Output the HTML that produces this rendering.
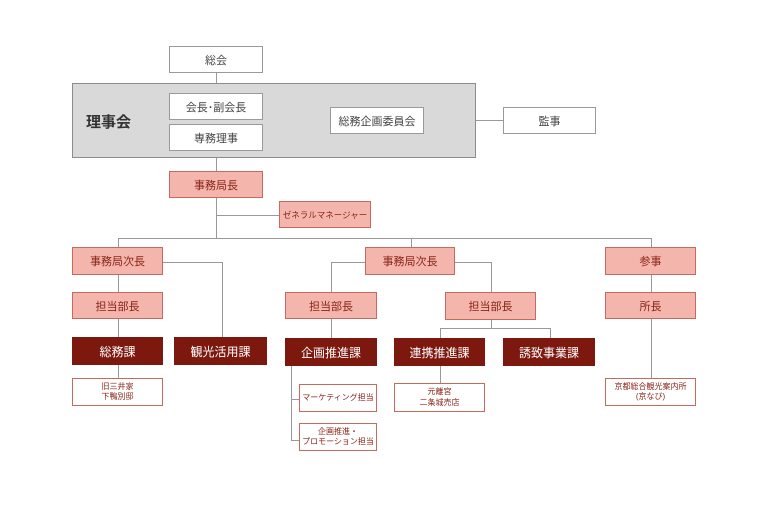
<!DOCTYPE html>
<html><head><meta charset="utf-8"><style>
body{margin:0;width:768px;height:512px;background:#fff;position:relative;overflow:hidden;font-family:"Liberation Sans","Noto Sans CJK JP",sans-serif}
div{position:absolute;box-sizing:border-box}
.b{display:flex;align-items:center;justify-content:center;text-align:center}
.w{background:#fff;border:1px solid #9a9a9a;color:#444;font-size:11px}
.p{background:#f4b6ac;border:1px solid #c9685c;color:#8a2418;font-size:11px}
.d{background:#7d180e;color:#fff;font-size:12px}
.s{background:#fff;border:1px solid #c9685c;color:#8a2418;font-size:8px;line-height:1.3}
.h{height:1px;background:#999}
.v{width:1px;background:#999}
</style></head><body>
<div class="v" style="left:216px;top:73px;height:10px"></div>
<div class="v" style="left:216px;top:158px;height:13px"></div>
<div class="v" style="left:216px;top:198px;height:40px"></div>
<div class="h" style="left:216px;top:215px;width:63px"></div>
<div class="h" style="left:476px;top:120px;width:27px"></div>
<div class="h" style="left:118px;top:238px;width:534px"></div>
<div class="v" style="left:118px;top:238px;height:127px"></div>
<div class="v" style="left:411px;top:238px;height:9px"></div>
<div class="v" style="left:651px;top:238px;height:140px"></div>
<div class="v" style="left:118px;top:365px;height:13px"></div>
<div class="h" style="left:163px;top:262px;width:59px"></div>
<div class="v" style="left:222px;top:262px;height:75px"></div>
<div class="h" style="left:331px;top:262px;width:34px"></div>
<div class="v" style="left:331px;top:262px;height:76px"></div>
<div class="h" style="left:455px;top:262px;width:36px"></div>
<div class="v" style="left:491px;top:262px;height:66px"></div>
<div class="h" style="left:440px;top:328px;width:110px"></div>
<div class="v" style="left:440px;top:328px;height:55px"></div>
<div class="v" style="left:550px;top:328px;height:10px"></div>
<div class="v" style="left:291px;top:365px;height:75px"></div>
<div class="h" style="left:291px;top:399px;width:8px"></div>
<div class="h" style="left:291px;top:440px;width:8px"></div>
<div class="b w" style="left:169px;top:46px;width:94px;height:27px">総会</div>
<div style="left:72px;top:83px;width:404px;height:75px;background:#d9d9d9;border:1px solid #8c8c8c"></div>
<div style="left:86px;top:111px;font-size:15px;font-weight:bold;color:#333">理事会</div>
<div class="b w" style="left:169px;top:93px;width:94px;height:27px">会長･副会長</div>
<div class="b w" style="left:169px;top:124px;width:94px;height:27px">専務理事</div>
<div class="b w" style="left:330px;top:107px;width:94px;height:27px">総務企画委員会</div>
<div class="b w" style="left:503px;top:107px;width:93px;height:27px">監事</div>
<div class="b p" style="left:169px;top:171px;width:94px;height:27px">事務局長</div>
<div class="b p" style="left:279px;top:201px;width:92px;height:27px;font-size:8.5px">ゼネラルマネージャー</div>
<div class="b p" style="left:72px;top:247px;width:91px;height:28px">事務局次長</div>
<div class="b p" style="left:72px;top:292px;width:91px;height:27px">担当部長</div>
<div class="b d" style="left:72px;top:337px;width:91px;height:28px">総務課</div>
<div class="b d" style="left:174px;top:337px;width:93px;height:28px">観光活用課</div>
<div class="b s" style="left:72px;top:378px;width:91px;height:28px">旧三井家<br>下鴨別邸</div>
<div class="b p" style="left:365px;top:247px;width:90px;height:28px">事務局次長</div>
<div class="b p" style="left:285px;top:292px;width:92px;height:27px">担当部長</div>
<div class="b p" style="left:445px;top:292px;width:91px;height:28px">担当部長</div>
<div class="b d" style="left:285px;top:338px;width:92px;height:28px">企画推進課</div>
<div class="b d" style="left:394px;top:338px;width:91px;height:28px">連携推進課</div>
<div class="b d" style="left:503px;top:338px;width:92px;height:28px">誘致事業課</div>
<div class="b s" style="left:299px;top:384px;width:78px;height:28px">マーケティング担当</div>
<div class="b s" style="left:299px;top:423px;width:78px;height:28px">企画推進・<br>プロモーション担当</div>
<div class="b s" style="left:394px;top:383px;width:91px;height:29px">元離宮<br>二条城売店</div>
<div class="b p" style="left:605px;top:247px;width:91px;height:28px">参事</div>
<div class="b p" style="left:605px;top:292px;width:91px;height:27px">所長</div>
<div class="b s" style="left:605px;top:378px;width:91px;height:28px">京都総合観光案内所<br>(京なび)</div>
</body></html>
